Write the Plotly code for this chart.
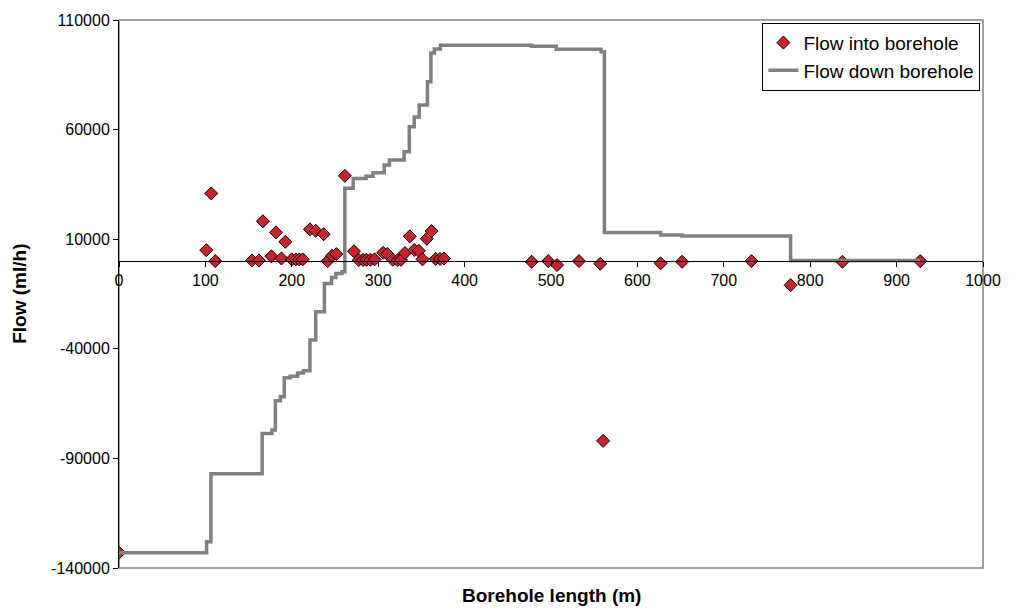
import plotly.graph_objects as go

# Flow into borehole (scatter points)
inflow_length = [0, 101, 106.8, 111.4, 154, 162, 166.5, 176.4, 181.7, 188, 192.5,
                 200, 204.7, 208.6, 212.7, 221, 227.7, 236.9, 241.5, 246.8, 251.5,
                 261.4, 272, 277.5, 282.5, 286.5, 291, 295.8, 305.8, 310.5, 316.9,
                 322.6, 326.4, 331, 336.6, 341.8, 347, 351.3, 356.3, 361.7, 366.6,
                 371.5, 376.1, 477.6, 496.8, 507, 532.4, 557, 560.3, 626.9, 651.7,
                 732, 777.3, 837.3, 927.3]
inflow_value = [-133000, 5000, 30900, 0, 300, 300, 18200, 2200, 13100, 1200, 8800,
                800, 800, 800, 800, 14500, 13800, 12300, 0, 2500, 3200,
                38900, 4500, 500, 500, 600, 600, 800, 3800, 3300, 600,
                500, 600, 3700, 11300, 5100, 4700, 800, 10200, 13700, 1000,
                1000, 1200, -300, 0, -1800, 0, -1200, -82000, -1000, -300,
                0, -11000, -300, 0]

# Flow down borehole (step line)
down_length = [0, 101.4, 106.4, 165.7, 177, 181, 186.8, 191.3, 198, 206.7, 213.5,
               221, 227.7, 237.7, 246, 251, 258, 261.4, 271, 286, 294, 307, 313,
               330, 336, 341.7, 347.5, 357, 361, 365, 372, 477.6, 506, 558, 561.8,
               626.9, 651.7, 777.3, 927.3]
down_value = [-133000, -128000, -97000, -78600, -77100, -63700, -61900, -53200,
              -52500, -51000, -50000, -36000, -23100, -10200, -7500, -5600, -4900,
              33200, 37700, 38700, 40300, 43800, 46100, 49900, 61300, 65800, 71200,
              81800, 95000, 96800, 98500, 98000, 96600, 95500, 13000, 11900, 11500,
              300, 300]

x_ticks = [0, 100, 200, 300, 400, 500, 600, 700, 800, 900, 1000]
y_ticks = [-140000, -90000, -40000, 10000, 60000, 110000]

FONT = "Arial, Liberation Sans, sans-serif"

fig = go.Figure()
fig.add_trace(go.Scatter(
    x=inflow_length, y=inflow_value, mode="markers", name="Flow into borehole",
    marker=dict(symbol="diamond", size=10, color="#C8232C",
                line=dict(color="black", width=1)),
))
fig.add_trace(go.Scatter(
    x=down_length, y=down_value, mode="lines", name="Flow down borehole",
    line=dict(color="#808080", width=3.5, shape="hv"),
))

fig.update_layout(
    width=1013, height=613,
    margin=dict(l=119, r=23, t=20, b=45),
    paper_bgcolor="white", plot_bgcolor="white",
    font=dict(family=FONT, size=16, color="black"),
    showlegend=True,
    legend=dict(x=0.997, y=0.995, xanchor="right", yanchor="top",
                bgcolor="white", bordercolor="black", borderwidth=1,
                font=dict(size=19), traceorder="normal",
                tracegroupgap=0, itemwidth=30),
    xaxis=dict(range=[0, 1000], tickvals=x_ticks, ticktext=[str(v) for v in x_ticks],
               showgrid=False, zeroline=False, showline=True, linecolor="black",
               linewidth=1, ticks="outside", ticklen=5, tickcolor="black",
               anchor="free", position=0.56, tickfont=dict(size=16)),
    yaxis=dict(range=[-140000, 110000], tickvals=y_ticks,
               ticktext=[str(v) for v in y_ticks],
               showgrid=False, zeroline=False, showline=True, linecolor="black",
               linewidth=1, ticks="outside", ticklen=5, tickcolor="black",
               tickfont=dict(size=16)),
    shapes=[dict(type="rect", xref="x domain", yref="y domain", x0=0, x1=1, y0=0, y1=1,
                 line=dict(color="#808080", width=1.5), layer="below")],
    annotations=[
        dict(text="<b>Borehole length (m)</b>", xref="paper", yref="paper",
             x=0.5, y=-0.051, xanchor="center", yanchor="middle", showarrow=False,
             font=dict(size=19)),
        dict(text="<b>Flow (ml/h)</b>", xref="paper", yref="paper", textangle=-90,
             x=-0.116, y=0.5, xanchor="center", yanchor="middle", showarrow=False,
             font=dict(size=19)),
    ],
)

fig.write_html("out.html")
